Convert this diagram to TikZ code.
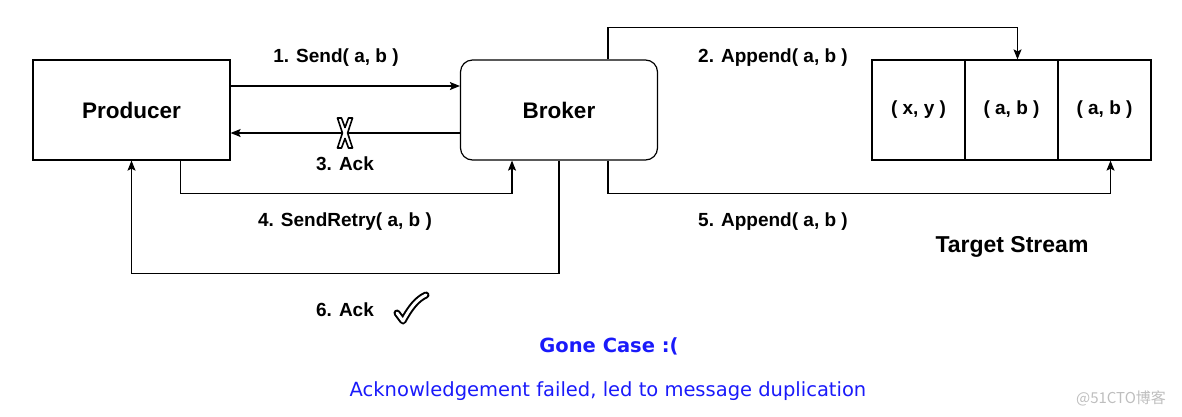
\documentclass[tikz,border=0pt]{standalone}
\usepackage{fontspec}
\setmainfont{Liberation Sans}
\newfontfamily\verdana{DejaVu Sans}
\newfontfamily\cjk{Noto Sans CJK SC}
\usepackage{tikz}
\usetikzlibrary{arrows.meta, positioning, calc}
\definecolor{gone}{RGB}{26, 26, 250}
\definecolor{mark}{RGB}{190, 190, 190}

\tikzset{
  box/.style={draw, line width=1.2pt, minimum width=197pt, minimum height=100pt,
    font=\fontsize{22.5}{26}\selectfont\bfseries},
  cellbox/.style={draw, line width=1.2pt, minimum width=93pt, minimum height=100pt,
    font=\fontsize{19}{22}\selectfont\bfseries},
  lbl/.style={font=\fontsize{19}{22}\selectfont\bfseries},
  arr/.style={-{Stealth[length=10pt, width=8pt, inset=2pt]}, line width=1.2pt}
}

\begin{document}
\begin{tikzpicture}[x=1pt, y=-1pt]
  \useasboundingbox (0, 0) rectangle (1182, 416);

  \node[box] (producer) at (131.5, 110) {Producer};
  \node[box, rounded corners=12pt] (broker) at (559, 110) {Broker};
  \foreach \t [count=\i] in {{( x, y )}, {( a, b )}, {( a, b )}} {
    \node[cellbox] (cell\i) at (872 + 93 * \i - 46.5, 110) {\t};
  }

  % requests and acks
  \draw[arr] ([yshift=24pt]producer.east) -- ([yshift=24pt]broker.west);
  \draw[arr] ([yshift=-23pt]broker.west) -- ([yshift=-23pt]producer.east);
  \draw[arr] ([xshift=49pt]producer.south) -- ++(0, 33) -| ([xshift=-47pt]broker.south);
  \draw[arr] (broker.south) -- ++(0, 113) -| (producer.south);

  % appends
  \draw[arr] ([xshift=49pt]broker.north) -- ++(0, -32) -| ([xshift=6pt]cell2.north);
  \draw[arr] ([xshift=49pt]broker.south) -- ++(0, 33) -| ([xshift=6pt]cell3.south);

  \node[lbl] (send) at (336, 58) {1. Send( a, b )};
  \node[lbl] (ack) at (345, 164) {3. Ack};
  \node[lbl] (retry) at (345, 222) {4. SendRetry( a, b )};
  \node[lbl] (ackok) at (345, 310) {6. Ack};
  \node[lbl] (append) at (773, 58) {2. Append( a, b )};
  \node[lbl] (appendtwo) at (773, 222) {5. Append( a, b )};
  \node[lbl, font=\fontsize{23}{26}\selectfont\bfseries] (target) at (1012, 247) {Target Stream};

  % lost ack and good ack
  \draw[line width=1.6pt, fill=white, line join=round]
    (337.5, 118) -- (341.5, 118) -- (345, 127.5) -- (348.5, 118) -- (352.5, 118)
    -- (347.6, 133) -- (352.5, 148) -- (348.5, 148) -- (345, 138.5) -- (341.5, 148)
    -- (337.5, 148) -- (342.4, 133) -- cycle;
  \foreach \w/\c in {7pt/black, 3pt/white} {
    \draw[line width=\w, \c, line join=round, line cap=round]
      (397, 313) -- (403, 321) .. controls (410, 308) and (417, 299) .. (426, 295);
  }

  \node[font=\verdana\fontsize{19.5}{22}\selectfont\bfseries, text=gone] (gone) at (609, 346) {Gone Case :(};
  \node[font=\verdana\fontsize{19.5}{22}\selectfont, text=gone] (why) at (608, 391)
    {Acknowledgement failed, led to message duplication};
  \node[font=\cjk\fontsize{15}{18}\selectfont, text=mark] (wm) at (1121, 398) {@51CTO博客};
\end{tikzpicture}
\end{document}
